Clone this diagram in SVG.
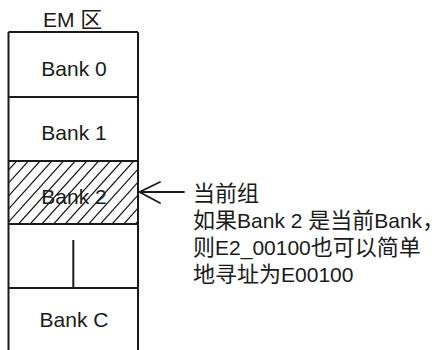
<svg xmlns="http://www.w3.org/2000/svg" width="439" height="350" viewBox="0 0 439 350">
<style>
.t{font-family:"Liberation Sans","Noto Sans CJK SC",sans-serif;font-size:21px;fill:#1a1a1a}
.c{font-family:"Noto Sans CJK SC","Liberation Sans",sans-serif;font-size:22px}
.m{text-anchor:middle}
.box{fill:none;stroke:#1a1a1a;stroke-width:2}
.ln{stroke:#1a1a1a;stroke-width:2;fill:none}
.hatch{stroke:#1a1a1a;stroke-width:1.2;fill:none}
.arr{stroke:#1a1a1a;stroke-width:1.8;fill:none;stroke-linecap:round}
</style>
<defs>
<clipPath id="clipB2"><rect x="8.5" y="161" width="129.5" height="63"/></clipPath>
</defs>
<g id="em-label"><text class="t" x="43" y="27">EM <tspan class="c">区</tspan></text></g>
<g id="bank0"><path class="ln" d="M8.5 32H138M8.5 32V97M138 32V97"/><text class="t m" x="74" y="76">Bank 0</text></g>
<g id="bank1"><path class="ln" d="M8.5 97H138M8.5 97V161M138 97V161"/><text class="t m" x="74" y="140">Bank 1</text></g>
<g id="bank2"><path class="hatch" clip-path="url(#clipB2)" d="M16.7 161L-40 224M28.4 161L-28.3 224M40.1 161L-16.6 224M51.8 161L-4.9 224M63.5 161L6.8 224M75.2 161L18.5 224M86.9 161L30.2 224M98.6 161L41.9 224M110.3 161L53.6 224M122 161L65.3 224M133.7 161L77 224M145.4 161L88.7 224M157.1 161L100.4 224M168.8 161L112.1 224M180.5 161L123.8 224M192.2 161L135.5 224"/><path class="ln" d="M8.5 161H138M8.5 161V224M138 161V224"/><text class="t m" x="74" y="204">Bank 2</text></g>
<g id="gap"><path class="ln" d="M8.5 224H138M8.5 224V288M138 224V288"/><path class="ln" stroke-width="1.5" d="M73.3 240V288"/></g>
<g id="bankC"><path class="ln" d="M8.5 288H138M8.5 288V350M138 288V350"/><text class="t m" x="74" y="327">Bank C</text></g>
<g id="connectors"><path class="arr" d="M184 192H139.5M160 182L139.5 192L160 203"/></g>
<g id="note">
<text class="t" x="193" y="201"><tspan class="c">当前组</tspan></text>
<text class="t" x="193" y="228"><tspan class="c">如果</tspan>Bank 2 <tspan class="c">是当前</tspan>Bank<tspan class="c">，</tspan></text>
<text class="t" x="193" y="255"><tspan class="c">则</tspan>E2_00100<tspan class="c">也可以简单</tspan></text>
<text class="t" x="193" y="282"><tspan class="c">地寻址为</tspan>E00100</text>
</g>
</svg>
